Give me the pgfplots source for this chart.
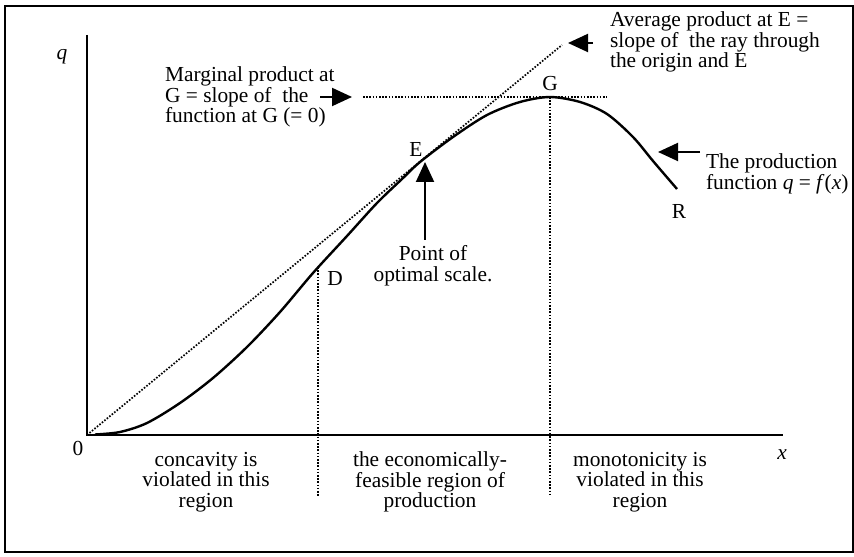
\documentclass[border=0pt]{standalone}
\usepackage{fontspec}
\setmainfont{Liberation Serif}
\usepackage{pgfplots}
\pgfplotsset{compat=1.18}
\usetikzlibrary{arrows.meta}

% curve (origin at the corner of the axes)
\pgfplotstableread{
X Y
8 0.5
33 3
60 12
93 32
126 57
160 88
193 123
226 162
260 199
290 232
315 256
333 273
366 298
400 320
433 333
463 338
493 333
520 321
546 298
566 274
590 246
}\prodfn

\begin{document}
\begin{tikzpicture}[
    font=\fontsize{10.7}{10.3}\selectfont,
    dots/.style={line width=0.85pt, dash pattern=on 0.8pt off 0.8pt},
    ann/.style={line width=1pt, -{Triangle[length=10pt,width=9pt]}},
]
\begin{axis}[
    x=0.5pt, y=0.5pt,
    xmin=-82, xmax=766, ymin=-117, ymax=429,
    xtick=\empty, ytick=\empty,
    axis line style={line width=1pt},
    clip=false,
]
% axes
\addplot[black, line width=1.4pt] coordinates {(0,400) (0,0) (696,0)};
% ray through origin and E, tangent at G, vertical guides
\addplot[black, dots] coordinates {(0,0) (475,390)};
\addplot[black, dots] coordinates {(276,338) (520,338)};
\addplot[black, dots] coordinates {(231,168) (231,-61)};
\addplot[black, dots] coordinates {(463,338) (463,-61)};
% production function
\addplot[black, line width=1.2pt, smooth] table[x=X, y=Y] {\prodfn};

\node at (axis cs:-25,378) {\textit{q}};
\node at (axis cs:-9,-13) {0};
\node at (axis cs:695,-20) {\textit{x}};
\node at (axis cs:248,156) {D};
\node at (axis cs:329,286) {E};
\node at (axis cs:463,351) {G};
\node at (axis cs:592,224) {R};

\node[anchor=west, align=left] at (axis cs:71,338)
  {Marginal product at\\G = slope of\ \ the\\function at G (= 0)};
\draw[ann] (axis cs:233,338) -- (axis cs:265,338);

\node[anchor=west, align=left] at (axis cs:516,393)
  {Average product at E =\\slope of\ \ the ray through\\the origin and E};
\draw[ann] (axis cs:506,392) -- (axis cs:481,392);

\node[anchor=west, align=left] at (axis cs:612,261)
  {The production\\function \textit{q} = \textit{f}(\textit{x})};
\draw[ann] (axis cs:613,283) -- (axis cs:571,283);

\node[align=center] at (axis cs:346,169) {Point of\\optimal scale.};
\draw[ann] (axis cs:338,195) -- (axis cs:338,273);

\node[align=center] at (axis cs:119,-47) {concavity is\\violated in this\\region};
\node[align=center] at (axis cs:343,-47) {the economically-\\feasible region of\\production};
\node[align=center] at (axis cs:553,-47) {monotonicity is\\violated in this\\region};
\end{axis}
\pgfresetboundingbox
\path[use as bounding box] ([shift={(-2.5pt,-2pt)}]current axis.south west)
  rectangle ([shift={(0.5pt,3pt)}]current axis.north east);
\end{tikzpicture}
\end{document}
